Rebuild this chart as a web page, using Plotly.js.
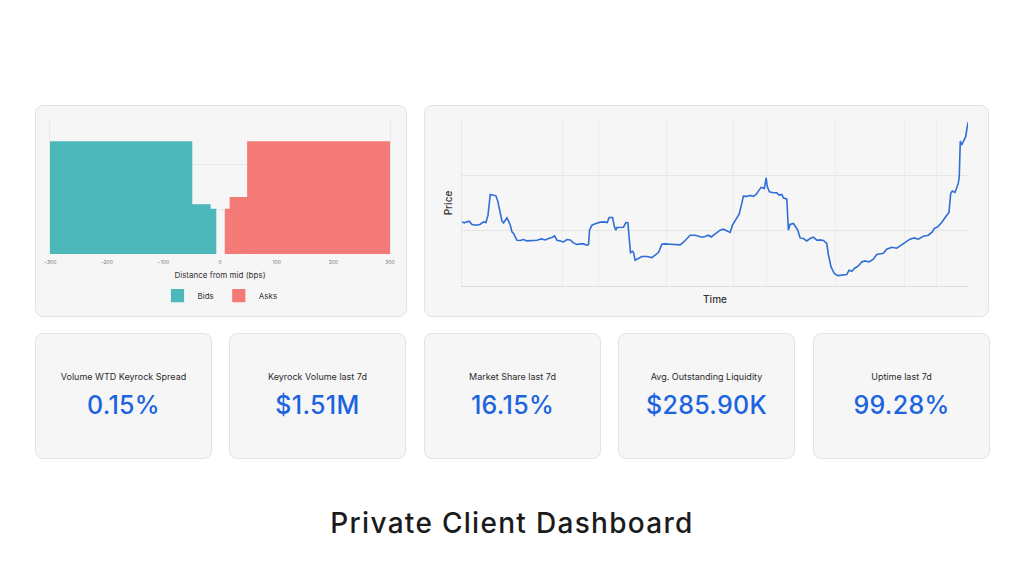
<!DOCTYPE html>
<html>
<head>
<meta charset="utf-8">
<script src="https://cdn.plot.ly/plotly-3.0.1.min.js"></script>
<style>
  html, body { margin:0; padding:0; background:#ffffff; }
  body { width:1024px; height:576px; position:relative; overflow:hidden; font-family:Inter, "Noto Sans", sans-serif; }
  .card { position:absolute; background:#f6f6f6; border:1px solid #e3e3e3; border-radius:8px; box-sizing:border-box; }
  .plot { position:absolute; left:0; top:0; }
  .kpi-label { position:absolute; left:0; right:0; top:37px; text-align:center; font-size:9px; color:#2b2b2b; }
  .kpi-value { position:absolute; left:0; right:0; top:56px; text-align:center; font-size:25px; color:#1c64df; font-weight:500; letter-spacing:0.3px; }
  #title { position:absolute; left:0; width:1024px; top:506px; text-align:center; font-size:28px; color:#1b1b1b; font-weight:500; letter-spacing:1.3px; }
</style>
</head>
<body>
<div class="card" id="depthCard" style="left:35px; top:105px; width:372px; height:212px;"><div id="depth" class="plot"></div></div>
<div class="card" id="priceCard" style="left:424px; top:105px; width:565px; height:212px;"><div id="price" class="plot"></div></div>
<div id="kpis"></div>
<div id="title">Private Client Dashboard</div>

<script>
// ---------- Order-book depth data (bps from mid, cumulative depth) ----------
const bidStart = [-300, -50, -17.6];
const bidEnd   = [-50, -17.6, -7.6];
const bidDepth = [2.51, 1.10, 1.00];
const askStart = [9.5, 18, 49];
const askEnd   = [18, 49, 300];
const askDepth = [1.00, 1.26, 2.51];
const depthTicks = [-300, -200, -100, 0, 100, 200, 300];

// ---------- Price series (time in hours over 7 days, price) ----------
const timeH = [0,0.76,1.66,2.42,3.32,4.98,6.07,7.17,7.96,8.63,9.39,10.48,11.28,11.94,12.71,13.27,13.8,14.37,14.93,15.46,
16.03,16.59,17.12,17.68,18.25,19.34,20.44,21.57,23.23,24.88,26.31,27.64,28.73,29.86,30.72,31.52,32.62,33.71,34.84,35.93,
37.03,38.16,39.25,40.35,41.48,42.01,42.34,43.13,44.23,45.89,47.31,48.21,48.87,49.97,50.63,51.1,51.43,52.52,53.62,54.41,
55.08,55.28,55.61,55.94,56.61,56.94,57.5,58.6,59.73,61.38,63.04,63.9,65.23,66.36,67.45,69.11,70.77,72.43,73.53,74.65,
75.75,77.41,78.5,79.63,80.73,81.82,82.72,84.05,85.7,86.8,87.93,89.02,89.79,90.91,92.01,92.9,93.43,94.56,95.66,96.75,
97.65,98.41,99.31,100.4,100.97,101.4,102.06,103.39,104.52,105.28,106.18,106.71,107.84,108.37,108.93,110.03,111.15,111.48,112.25,113.34,
114.47,115.57,116.66,117.79,118.88,119.98,121.11,121.64,122.53,123.63,124.76,126.08,127.74,128.5,129.4,130.49,131.59,132.72,133.81,135.14,
136.57,137.7,138.79,139.89,141.02,142.67,144.33,145.76,147.08,148.74,150.17,151.5,153.16,154.81,156.14,156.8,157.93,159.26,160.59,161.68,
162.25,162.78,163.68,164.77,165.1,165.44,165.9,166.43,167.23,168];
const priceVal = [111.59,111.41,111.59,111.72,111.12,110.99,111.17,111.59,111.48,112.80,116.55,116.43,116.30,115.21,112.80,111.72,111.41,111.90,112.31,111.72,
110.99,109.78,109.49,108.87,108.28,108.22,108.40,108.15,108.15,108.28,108.51,108.33,108.58,108.77,109.06,108.28,108.15,107.97,108.40,108.33,
107.79,107.50,107.61,107.61,107.37,107.50,110.09,110.99,111.23,111.54,111.59,111.48,112.39,112.39,110.68,110.09,110.58,110.63,110.63,111.48,
111.45,110.09,108.58,106.05,106.28,106.05,104.65,104.96,105.32,105.32,105.14,105.51,106.05,107.55,107.61,107.55,107.50,107.43,107.91,108.58,
109.18,109.18,109.06,108.82,108.95,109.18,108.87,109.42,110.09,110.27,109.91,109.67,110.99,112.08,112.98,114.92,116.24,116.19,116.37,116.19,
116.55,117.15,117.82,117.64,119.56,117.93,117.02,116.84,116.84,116.43,116.55,115.94,115.70,110.09,111.12,111.30,110.40,110.09,108.69,108.58,
108.15,108.58,108.82,108.28,108.33,108.22,107.68,105.69,103.44,102.25,101.88,101.94,102.06,102.84,102.66,103.26,103.62,104.35,104.53,104.35,
104.84,105.69,105.87,105.92,106.65,107.01,106.83,107.37,107.79,108.46,108.69,108.46,109.00,109.18,109.78,110.40,110.68,111.48,112.50,113.29,
116.73,117.15,116.91,118.54,119.74,126.20,125.48,126.08,126.98,129.59];
const timeGrid = [33.3, 45.2, 67.9, 90.3, 101.2, 124.0, 146.8, 157.6];

// ---------- KPI cards ----------
const kpiLabels = ["Volume WTD Keyrock Spread", "Keyrock Volume last 7d", "Market Share last 7d", "Avg. Outstanding Liquidity", "Uptime last 7d"];
const kpiValues = ["0.15%", "$1.51M", "16.15%", "$285.90K", "99.28%"];

const kpiLeft = [35, 229, 424, 618, 813];
const kpiBox = document.getElementById('kpis');
kpiLabels.forEach((lab, i) => {
  const c = document.createElement('div');
  c.className = 'card';
  c.style.left = kpiLeft[i] + 'px';
  c.style.top = '333px';
  c.style.width = '177px';
  c.style.height = '126px';
  c.innerHTML = '<div class="kpi-label"></div><div class="kpi-value"></div>';
  c.querySelector('.kpi-label').textContent = lab;
  c.querySelector('.kpi-value').textContent = kpiValues[i];
  kpiBox.appendChild(c);
});

const FONT = 'Inter, "Noto Sans", sans-serif';
const BID = '#4db8b9', ASK = '#f47a77';

// ---------- Depth chart ----------
const bidsTrace = {
  type: 'bar', name: 'Bids',
  x: bidStart, y: bidDepth,
  width: bidStart.map((s, i) => bidEnd[i] - s), offset: 0,
  marker: { color: BID, line: { width: 1.2, color: BID } },
  hoverinfo: 'skip'
};
const asksTrace = {
  type: 'bar', name: 'Asks',
  x: askStart, y: askDepth,
  width: askStart.map((s, i) => askEnd[i] - s), offset: 0,
  marker: { color: ASK, line: { width: 1.2, color: ASK } },
  hoverinfo: 'skip'
};
Plotly.newPlot('depth', [bidsTrace, asksTrace], {
  width: 370, height: 210,
  margin: { l: 14, r: 16, t: 14, b: 62, autoexpand: false },
  paper_bgcolor: 'rgba(0,0,0,0)', plot_bgcolor: 'rgba(0,0,0,0)',
  font: { family: FONT, color: '#333' },
  barmode: 'overlay',
  showlegend: true,
  legend: { orientation: 'h', x: 0.5, xanchor: 'center', y: -0.31, yanchor: 'middle',
            font: { size: 8, color: '#333' }, itemwidth: 30, bgcolor: 'rgba(0,0,0,0)' },
  xaxis: {
    range: [-300, 300], tickvals: depthTicks, ticks: '', showline: false,
    tickfont: { size: 5, color: '#777' }, ticklabelstandoff: 4,
    showgrid: false, zeroline: false, automargin: false,
    title: { text: 'Distance from mid (bps)', font: { size: 8, color: '#333' }, standoff: 8 }
  },
  yaxis: {
    range: [0, 3], dtick: 1, showticklabels: false, ticks: '', automargin: false,
    showgrid: true, gridcolor: '#e9e9e9', zeroline: false,
    showline: true, mirror: true, linecolor: '#e9e9e9', linewidth: 1
  }
}, { displayModeBar: false, staticPlot: true });

// ---------- Price chart ----------
Plotly.newPlot('price', [{
  type: 'scatter', mode: 'lines', x: timeH, y: priceVal,
  line: { color: '#2e6ed6', width: 1.6, shape: 'linear' }, hoverinfo: 'skip', showlegend: false
}], {
  width: 563, height: 210,
  margin: { l: 37, r: 20, t: 14, b: 30, autoexpand: false },
  paper_bgcolor: 'rgba(0,0,0,0)', plot_bgcolor: 'rgba(0,0,0,0)',
  font: { family: FONT, color: '#333' },
  xaxis: {
    range: [0, 168], tickvals: timeGrid, showticklabels: false, ticks: '', automargin: false,
    showgrid: true, gridcolor: '#ececec', zeroline: false,
    showline: true, linecolor: '#dedede', linewidth: 1,
    title: { text: 'Time', font: { size: 10, color: '#333', weight: 500 }, standoff: 9 }
  },
  yaxis: {
    range: [100, 130], dtick: 10, showticklabels: false, ticks: '', automargin: false,
    showgrid: true, gridcolor: '#e6e6e6', zeroline: false,
    showline: true, linecolor: '#e6e6e6', linewidth: 1,
    title: { text: 'Price', font: { size: 10, color: '#333', weight: 500 }, standoff: 6 }
  }
}, { displayModeBar: false, staticPlot: true });
</script>
</body>
</html>
